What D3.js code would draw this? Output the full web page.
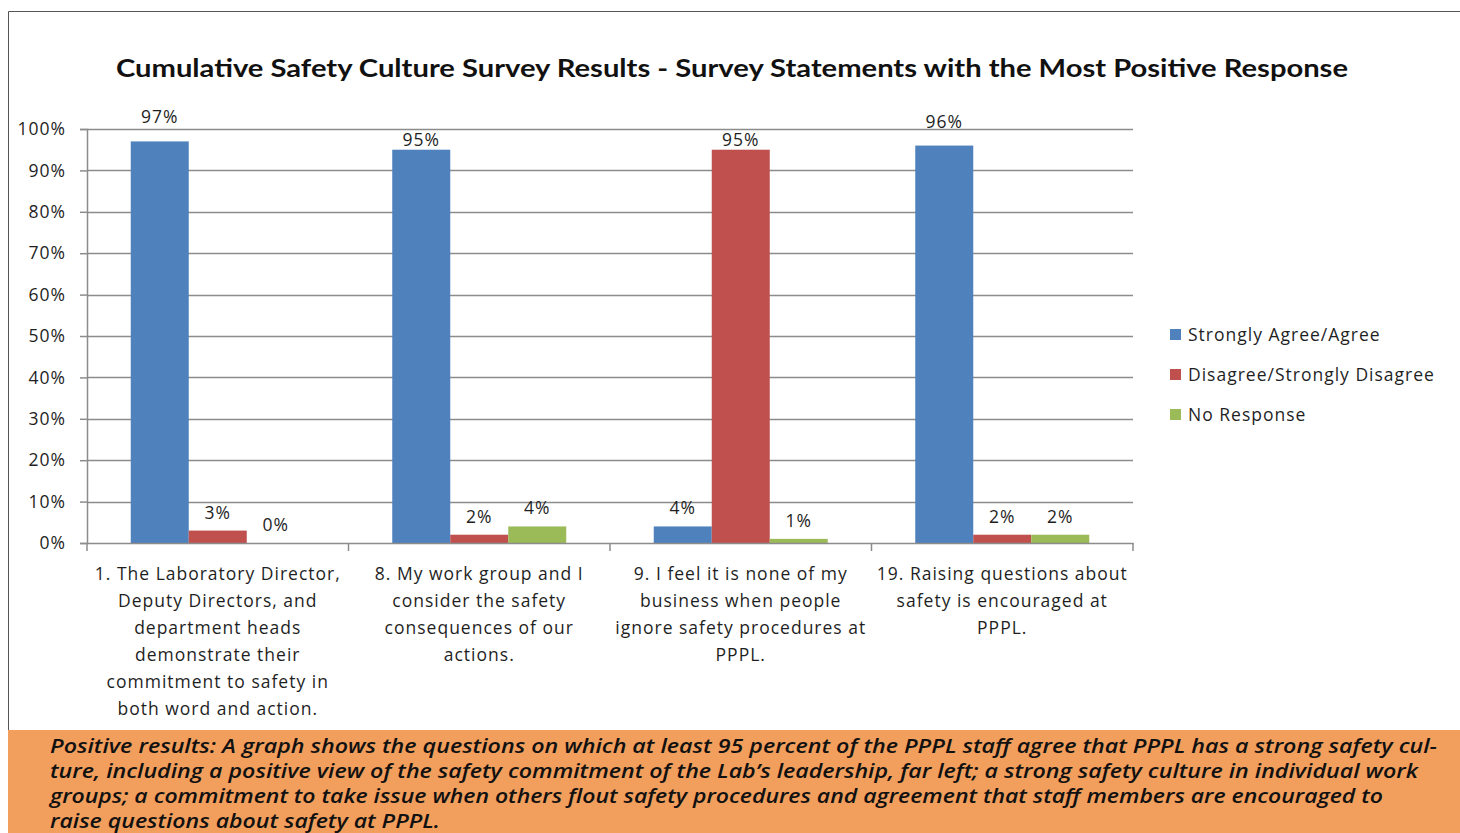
<!DOCTYPE html>
<html>
<head>
<meta charset="utf-8">
<script src="https://cdn.jsdelivr.net/npm/d3@7"></script>
<style>
  body { margin: 0; background: #fff; }
  text { font-family: "Open Sans", sans-serif; fill: #1f1f1f; }
  .title { font-family: Lato, sans-serif; font-weight: bold; font-size: 25px; fill: #111; }
  .lbl { font-size: 17.5px; letter-spacing: 1px; }
  .caption { font-style: italic; font-weight: 600; font-size: 19px; fill: #111; }
</style>
</head>
<body>
<div id="chart"></div>
<script>
// Chart data
var categories = ["q1", "q8", "q9", "q19"];
var categoryLines = [
    ["1. The Laboratory Director,", "Deputy Directors, and", "department heads", "demonstrate their", "commitment to safety in", "both word and action."],
    ["8. My work group and I", "consider the safety", "consequences of our", "actions."],
    ["9. I feel it is none of my", "business when people", "ignore safety procedures at", "PPPL."],
    ["19. Raising questions about", "safety is encouraged at", "PPPL."]
];
var seriesNames = ["Strongly Agree/Agree", "Disagree/Strongly Disagree", "No Response"];
var agreeValues = [97, 95, 4, 96];
var disagreeValues = [3, 2, 95, 2];
var noResponseValues = [0, 4, 1, 2];
var yTicks = [0, 10, 20, 30, 40, 50, 60, 70, 80, 90, 100];
var colors = ["#4f81bd", "#c0504d", "#9bbb59"];

var titleText = "Cumulative Safety Culture Survey Results - Survey Statements with the Most Positive Response";
var captionLines = [
    "Positive results: A graph shows the questions on which at least 95 percent of the PPPL staff agree that PPPL has a strong safety cul-",
    "ture, including a positive view of the safety commitment of the Lab\u2019s leadership, far left; a strong safety culture  in individual work",
    "groups; a commitment to take issue when others flout safety procedures and agreement that staff members are encouraged to",
    "raise questions about safety at PPPL."
];

var seriesValues = [agreeValues, disagreeValues, noResponseValues];

// Setup the parameters
var svgWidth = 1460;
var svgHeight = 833;
var margin = { top: 129, left: 87 };
var width = 1133 - 87;
var height = 543 - 129;

var svg = d3.select("#chart")
    .append("svg")
    .attr("width", svgWidth)
    .attr("height", svgHeight);

// outer frame
svg.append("path")
    .attr("d", "M8.5,833 L8.5,11.5 L1460,11.5")
    .attr("fill", "none")
    .attr("stroke", "#555")
    .attr("stroke-width", 1);

svg.append("text")
    .attr("class", "title")
    .attr("x", 732)
    .attr("y", 77)
    .attr("text-anchor", "middle")
    .attr("textLength", 1232)
    .attr("lengthAdjust", "spacingAndGlyphs")
    .text(titleText);

var chartGroup = svg.append("g")
    .attr("transform", `translate(${margin.left}, ${margin.top})`);

// Scales
var x0 = d3.scaleBand()
    .domain(categories)
    .range([0, width])
    .paddingInner(0)
    .paddingOuter(0);

var x1 = d3.scaleBand()
    .domain(seriesNames)
    .range([0, x0.bandwidth()])
    .paddingOuter(0.5 * 87.5 / 58)
    .paddingInner(0);

var yLinearScale = d3.scaleLinear()
    .domain([0, 100])
    .range([height, 0]);

// Gridlines
chartGroup.append("g")
    .selectAll("line")
    .data(yTicks.filter(d => d > 0))
    .enter()
    .append("line")
    .attr("x1", 0)
    .attr("x2", width)
    .attr("y1", d => Math.round(yLinearScale(d)) + 0.5)
    .attr("y2", d => Math.round(yLinearScale(d)) + 0.5)
    .attr("stroke", "#8c8c8c")
    .attr("stroke-width", 1.5);

// Left axis
var leftAxis = d3.axisLeft(yLinearScale)
    .tickValues(yTicks)
    .tickFormat(d => d + "%")
    .tickSize(7)
    .tickPadding(14);

var yAxisG = chartGroup.append("g").call(leftAxis);
yAxisG.select(".domain").attr("stroke", "#8c8c8c").attr("stroke-width", 1.5);
yAxisG.selectAll(".tick line").attr("stroke", "#8c8c8c").attr("stroke-width", 1.5);
yAxisG.selectAll(".tick text")
    .attr("fill", "#1f1f1f")
    .attr("font-family", "Open Sans")
    .attr("class", "lbl")
    .attr("font-size", null);

// Bars
var groups = chartGroup.selectAll(".cat")
    .data(categories)
    .enter()
    .append("g")
    .attr("transform", d => `translate(${x0(d)}, 0)`);

groups.selectAll("rect")
    .data((d, i) => seriesNames.map((s, j) => ({ s: s, v: seriesValues[j][i], c: colors[j] })))
    .enter()
    .append("rect")
    .attr("x", d => x1(d.s))
    .attr("width", x1.bandwidth())
    .attr("y", d => yLinearScale(d.v))
    .attr("height", d => height - yLinearScale(d.v))
    .attr("fill", d => d.c);

groups.selectAll(".val")
    .data((d, i) => seriesNames.map((s, j) => ({ s: s, v: seriesValues[j][i] })))
    .enter()
    .append("text")
    .attr("class", "val lbl")
    .attr("x", d => x1(d.s) + x1.bandwidth() / 2)
    .attr("y", d => yLinearScale(d.v) - (d.v >= 96 ? 18 : d.v >= 95 ? 4 : 12))
    .attr("text-anchor", "middle")
    .text(d => d.v + "%");

// Bottom axis
var bottomAxis = d3.axisBottom(x0)
    .tickSize(0)
    .tickFormat("");

var xAxisG = chartGroup.append("g")
    .attr("transform", `translate(0, ${height})`)
    .call(bottomAxis);
xAxisG.select(".domain").attr("stroke", "#8c8c8c").attr("stroke-width", 1.5);

xAxisG.selectAll(".sep")
    .data(d3.range(categories.length + 1))
    .enter()
    .append("line")
    .attr("x1", i => i * x0.bandwidth())
    .attr("x2", i => i * x0.bandwidth())
    .attr("y1", 0)
    .attr("y2", 8)
    .attr("stroke", "#8c8c8c")
    .attr("stroke-width", 1.5);

categories.forEach(function (c, i) {
    var t = chartGroup.append("text")
        .attr("class", "lbl")
        .attr("x", x0(c) + x0.bandwidth() / 2)
        .attr("y", height + 37)
        .attr("text-anchor", "middle");
    categoryLines[i].forEach(function (line, k) {
        t.append("tspan")
            .attr("x", x0(c) + x0.bandwidth() / 2)
            .attr("dy", k === 0 ? 0 : 27)
            .text(line);
    });
});

// Legend
var legend = svg.append("g")
    .attr("transform", "translate(1170, 329)");

seriesNames.forEach(function (s, i) {
    legend.append("rect")
        .attr("x", 0)
        .attr("y", i * 40)
        .attr("width", 11)
        .attr("height", 11)
        .attr("fill", colors[i]);
    legend.append("text")
        .attr("class", "lbl")
        .attr("x", 18)
        .attr("y", i * 40 + 12)
        .text(s);
});

// Caption box
svg.append("rect")
    .attr("x", 8)
    .attr("y", 730)
    .attr("width", 1452)
    .attr("height", 103)
    .attr("fill", "#f29e5c");

captionLines.forEach(function (line, i) {
    svg.append("text")
        .attr("class", "caption")
        .attr("x", 50)
        .attr("y", 753 + i * 25)
        .attr("textLength", [1387, 1368, 1333, 390][i])
        .attr("lengthAdjust", "spacingAndGlyphs")
        .text(line);
});
</script>
</body>
</html>
